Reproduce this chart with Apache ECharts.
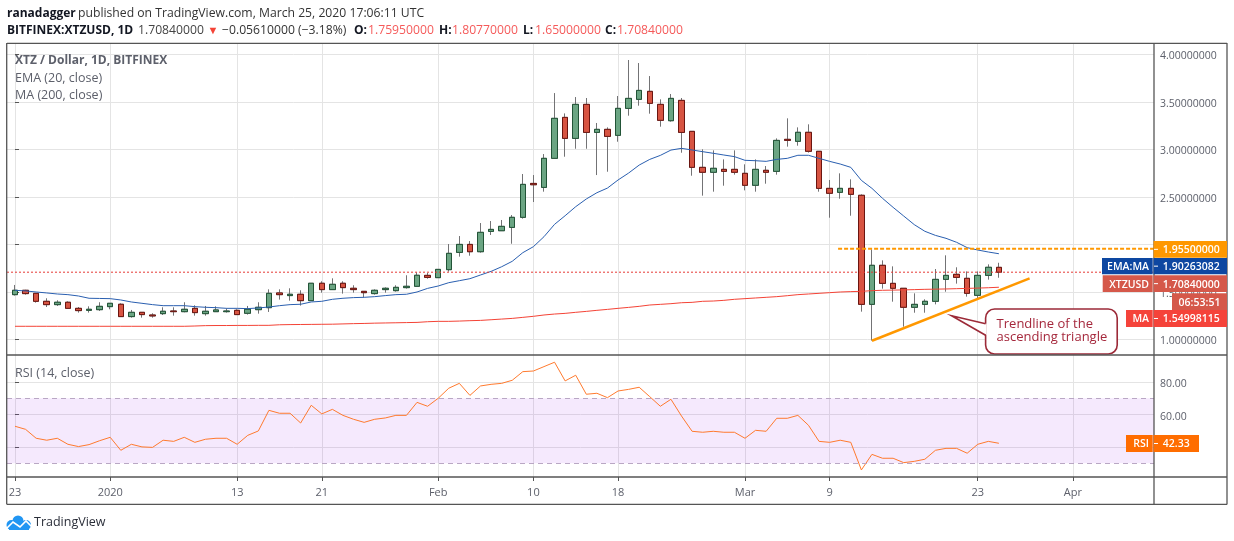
<!DOCTYPE html>
<html><head><meta charset="utf-8">
<style>html,body{margin:0;padding:0;background:#fff}#c{width:1234px;height:541px}</style>
<script src="https://cdn.jsdelivr.net/npm/echarts@6/dist/echarts.min.js"></script>
</head><body><div id="c"></div>
<script>
var opens=[1.472,1.518,1.486,1.402,1.367,1.392,1.328,1.307,1.314,1.346,
1.371,1.241,1.286,1.258,1.272,1.300,1.293,1.328,1.272,1.293,
1.293,1.307,1.276,1.314,1.335,1.490,1.462,1.476,1.409,1.592,
1.525,1.592,1.539,1.507,1.483,1.525,1.514,1.546,1.560,1.675,
1.651,1.735,1.917,2.001,1.924,2.138,2.145,2.180,2.286,2.643,
2.601,2.907,3.338,3.117,3.475,3.180,3.212,3.149,3.433,3.528,
3.612,3.475,3.303,3.517,3.191,2.812,2.760,2.791,2.791,2.749,
2.623,2.781,2.770,3.107,3.086,3.181,2.981,2.591,2.549,2.591,
2.518,1.370,1.781,1.591,1.539,1.339,1.370,1.402,1.633,1.686,
1.644,1.465,1.675,1.7595];
var closes=[1.518,1.483,1.402,1.367,1.392,1.328,1.304,1.318,1.349,1.381,
1.241,1.286,1.262,1.248,1.297,1.293,1.318,1.283,1.297,1.311,
1.300,1.262,1.318,1.339,1.486,1.472,1.476,1.409,1.592,1.525,
1.581,1.546,1.525,1.493,1.518,1.539,1.549,1.560,1.676,1.654,
1.738,1.907,2.001,1.924,2.128,2.159,2.191,2.286,2.633,2.629,
2.907,3.328,3.117,3.475,3.180,3.212,3.138,3.433,3.538,3.622,
3.486,3.307,3.538,3.180,2.812,2.760,2.802,2.770,2.760,2.623,
2.791,2.760,3.096,3.096,3.181,2.981,2.591,2.539,2.591,2.528,
1.370,1.781,1.591,1.539,1.339,1.370,1.402,1.633,1.675,1.654,
1.486,1.675,1.760,1.7084];
var lows=[1.462,1.472,1.388,1.342,1.353,1.325,1.283,1.283,1.300,1.318,
1.241,1.230,1.230,1.230,1.258,1.251,1.286,1.251,1.251,1.293,
1.283,1.262,1.262,1.272,1.290,1.420,1.409,1.357,1.409,1.493,
1.525,1.483,1.493,1.444,1.472,1.493,1.504,1.535,1.556,1.640,
1.651,1.714,1.872,1.882,1.914,2.100,2.145,2.008,2.272,2.447,
2.556,2.907,2.924,3.008,3.008,2.731,2.766,3.082,3.356,3.461,
3.377,3.240,3.293,2.966,2.724,2.514,2.556,2.619,2.735,2.570,
2.556,2.640,2.735,3.030,3.040,2.967,2.556,2.282,2.482,2.303,
1.293,0.988,1.535,1.398,1.135,1.282,1.282,1.370,1.503,1.588,
1.451,1.423,1.630,1.650];
var highs=[1.574,1.523,1.486,1.434,1.413,1.402,1.342,1.349,1.392,1.381,
1.381,1.311,1.286,1.276,1.339,1.339,1.392,1.360,1.353,1.349,
1.328,1.318,1.353,1.392,1.528,1.528,1.539,1.518,1.592,1.613,
1.644,1.613,1.571,1.507,1.528,1.549,1.571,1.676,1.707,1.700,
1.738,2.005,2.089,2.036,2.226,2.247,2.258,2.310,2.742,2.731,
2.952,3.594,3.380,3.552,3.542,3.279,3.233,3.563,3.942,3.910,
3.773,3.528,3.584,3.542,3.191,3.002,2.991,2.896,2.991,2.844,
2.896,2.826,3.117,3.328,3.233,3.265,2.981,2.679,2.749,2.686,
2.528,1.949,1.833,1.770,1.539,1.486,1.423,1.742,1.886,1.760,
1.717,1.717,1.791,1.8077];
var ema20=[1.518,1.511,1.500,1.490,1.479,1.472,1.458,1.434,1.432,1.430,
1.416,1.395,1.381,1.367,1.356,1.356,1.356,1.346,1.339,1.335,
1.328,1.328,1.325,1.332,1.342,1.356,1.367,1.371,1.395,1.402,
1.423,1.434,1.441,1.444,1.451,1.462,1.472,1.476,1.500,1.538,
1.563,1.598,1.619,1.640,1.679,1.717,1.766,1.823,1.914,1.977,
2.082,2.212,2.303,2.398,2.479,2.545,2.594,2.679,2.752,2.836,
2.896,2.938,2.994,3.012,2.995,2.977,2.960,2.942,2.925,2.886,
2.882,2.875,2.896,2.907,2.939,2.939,2.907,2.875,2.847,2.812,
2.675,2.591,2.486,2.391,2.300,2.209,2.139,2.096,2.065,2.023,
1.967,1.942,1.921,1.90263];
var ma200=[1.139,1.139,1.139,1.139,1.139,1.139,1.139,1.139,1.139,1.139,
1.139,1.139,1.139,1.139,1.139,1.139,1.139,1.142,1.146,1.147,
1.147,1.148,1.148,1.149,1.149,1.155,1.157,1.158,1.159,1.160,
1.161,1.164,1.167,1.169,1.172,1.174,1.176,1.178,1.180,1.187,
1.191,1.191,1.194,1.198,1.201,1.208,1.215,1.222,1.233,1.244,
1.258,1.268,1.275,1.286,1.296,1.307,1.317,1.328,1.338,1.349,
1.363,1.370,1.377,1.387,1.391,1.402,1.405,1.412,1.423,1.430,
1.437,1.444,1.451,1.461,1.472,1.479,1.486,1.493,1.500,1.504,
1.507,1.514,1.518,1.520,1.522,1.525,1.528,1.530,1.532,1.535,
1.538,1.541,1.545,1.54998];
var rsi14=[52.8,50.9,45.4,44.2,45.4,41.7,40.3,41.5,43.9,46.0,
38.0,41.7,40.1,39.8,44.2,43.5,46.0,42.9,44.8,45.4,
45.4,41.7,47.2,49.9,62.6,60.8,60.8,54.8,65.7,60.4,
63.2,59.5,57.1,55.2,57.1,57.9,59.5,59.5,67.5,65.1,
70.0,76.2,79.2,71.8,77.6,78.6,79.2,81.1,86.4,86.8,
89.5,92.2,80.7,84.2,72.5,73.1,70.4,74.5,75.5,76.8,
71.0,65.1,69.4,59.1,49.7,49.1,49.7,49.1,49.1,45.4,
50.3,49.7,57.7,57.7,59.5,53.4,43.5,42.9,44.2,42.9,
25.9,35.5,33.1,33.1,30.4,31.2,32.5,38.0,39.2,39.2,
36.2,41.7,43.5,42.33];
var dayTicks=[0,9,21,29,40,49,57,69,77,91,100];
var dayLabels=['23','2020','13','21','Feb','10','18','Mar','9','23','Apr'];
var priceTicks=[1,1.5,2,2.5,3,3.5,4];
var rsiTicks=[40,60,80];
var resistance=1.955, lastClose=1.7084;
var trendline=[[81,0.987],[95.9,1.644]];
var calloutTip=[[88.53,1.25]];

var FONT='"Open Sans"';
var XMIN=-0.756, XMAX=107.66;
function withIndex(a){return a.map(function(v,i){return [i,v];});}
var wickData=opens.map(function(o,i){return [i,o,closes[i],lows[i],highs[i]];});
var bodyData=opens.map(function(o,i){var c=closes[i];return [i,o,c,Math.min(o,c),Math.max(o,c)];});

var gridColor='#e4e4e4', frame='#555';
function xAxisOf(idx,showLabels){
  return {type:'value',gridIndex:idx,min:XMIN,max:XMAX,
    axisLine:{show:false},
    axisTick:{show:showLabels,customValues:dayTicks,length:4,lineStyle:{color:frame}},
    axisLabel:{show:showLabels,customValues:dayTicks,margin:10,fontFamily:FONT,fontSize:11,color:'#5d606b',
      formatter:function(v){return dayLabels[dayTicks.indexOf(v)];}},
    splitLine:{show:true,customValues:dayTicks,lineStyle:{color:gridColor,width:1}}};
}
function yAxisOf(idx,min,max,ticks,dp){
  return {type:'value',gridIndex:idx,position:'right',min:min,max:max,
    axisLine:{show:false},
    axisTick:{show:true,customValues:ticks,length:4,lineStyle:{color:frame}},
    axisLabel:{customValues:ticks,margin:6,verticalAlign:'top',lineHeight:4,fontFamily:FONT,fontSize:10.5,color:'#5d606b',
      formatter:function(v){return v.toFixed(dp);}},
    splitLine:{show:true,customValues:ticks,lineStyle:{color:gridColor,width:1}}};
}
function txt(x,y,s,o){o=o||{};return {type:'text',z:120,x:x,y:y+1,silent:true,style:{text:s,fontFamily:FONT,fontSize:o.size||12.2,
  fontWeight:o.w||'normal',fill:o.c||'#333',align:o.a||'left',verticalAlign:'middle'}};}
function box(x,y,w,h,c){return {type:'rect',z:110,silent:true,shape:{x:x,y:y,width:w,height:h},style:{fill:c}};}
function rule(x1,y1,x2,y2){return {type:'line',z:105,silent:true,shape:{x1:x1,y1:y1,x2:x2,y2:y2},style:{stroke:frame,lineWidth:1.3}};}
function tag(yTop,h,c,value,left,leftX,w){
  w=w||73.5;
  var cy=yTop+h/2, out=[box(1153.5,yTop,w,h,c),
    {type:'line',z:115,silent:true,shape:{x1:1154,y1:cy,x2:1158,y2:cy},style:{stroke:'#fff',lineWidth:1}},
    txt(1153.5+w/2+(w<60?0:1),cy,value,{size:10.5,w:'600',c:'#fff',a:'center'})];
  if(left){out.push(box(leftX,yTop,1152.7-leftX,h,c));out.push(txt(1149,cy,left,{size:10.5,w:'600',c:'#fff',a:'right'}));}
  return out;
}
var red='#f55a5a', B={w:'bold',c:'#131722',size:12};
var graphics=[
  rule(7,43.3,1227,43.3),rule(7,355,1227,355),rule(7,477,1227,477),rule(7,504.3,1227,504.3),
  rule(6.7,43,6.7,504.6),rule(1154,43,1154,504.6),rule(1227,43,1227,504.6),
  txt(7,12.5,'ranadagger',B),txt(78,12.5,'published on TradingView.com, March 25, 2020 17:06:11 UTC',{c:'#333'}),
  txt(7,29.5,'BITFINEX:XTZUSD, 1D',B),txt(138,29.5,'1.70840000',{c:'#444'}),
  txt(207.5,29.5,'\u25BC',{c:'#f44336',size:11}),txt(222,29.5,'\u22120.05610000 (\u22123.18%)',{c:'#333'}),
  txt(354,29.5,'O:',B),txt(368,29.5,'1.75950000',{c:red}),
  txt(439,29.5,'H:',B),txt(452,29.5,'1.80770000',{c:red}),
  txt(523,29.5,'L:',B),txt(535,29.5,'1.65000000',{c:red}),
  txt(605,29.5,'C:',B),txt(617,29.5,'1.70840000',{c:red}),
  txt(15,60,'XTZ / Dollar, 1D, BITFINEX',{w:'bold',c:'#5d606b',size:12}),
  txt(15,77,'EMA (20, close)',{c:'#5d606b',size:12.5}),
  txt(15,94,'MA (200, close)',{c:'#5d606b',size:12.5}),
  txt(15,372,'RSI (14, close)',{c:'#5d606b',size:12.5}),
  txt(34,521.5,'TradingView',{c:'#2a2e39',size:12.5}),
  {type:'group',z:120,silent:true,children:[
    {type:'circle',z:120,shape:{cx:11.5,cy:525,r:5},style:{fill:'#2196f3'}},
    {type:'circle',z:120,shape:{cx:18,cy:521,r:5.5},style:{fill:'#2196f3'}},
    {type:'circle',z:120,shape:{cx:26,cy:525,r:5},style:{fill:'#2196f3'}},
    {type:'rect',z:120,shape:{x:9,y:524,width:20,height:6},style:{fill:'#2196f3'}},
    {type:'polyline',z:121,shape:{points:[[6,529],[13,522],[20,527],[26,521],[32,527]]},style:{stroke:'#fff',lineWidth:1.6,fill:null}}
  ]}
].concat(
  tag(241,16.7,'#ff9800','1.95500000'),
  tag(258,16.3,'#0d47a1','1.90263082','EMA:MA',1102),
  tag(275.3,16.7,'#d5584a','1.70840000','XTZUSD',1102.7),
  [box(1172,293.3,55,16.7,'#d5584a'),txt(1199.5,301.7,'06:53:51',{size:10.5,w:'600',c:'#fff',a:'center'})],
  tag(310,17,'#f5433a','1.54998115','MA',1126),
  tag(435,17,'#ff6d00','42.33','RSI',1126,45.5)
);

var option={
  animation:false,backgroundColor:'#fff',
  grid:[{left:7,top:43,width:1147,height:312},{left:7,top:355,width:1147,height:122}],
  xAxis:[xAxisOf(0,false),xAxisOf(1,true)],
  yAxis:[yAxisOf(0,0.8368,4.121,priceTicks,8),yAxisOf(1,21.57,96.65,rsiTicks,2)],
  graphic:graphics,
  series:[
    {name:'MA (200, close)',type:'line',data:withIndex(ma200),showSymbol:false,lineStyle:{color:'#f44336',width:1}},
    {name:'EMA (20, close)',type:'line',data:withIndex(ema20),showSymbol:false,lineStyle:{color:'#2a5fb0',width:1}},
    {name:'wicks',type:'candlestick',data:wickData,barWidth:6,
      itemStyle:{color:'#737375',color0:'#737375',borderColor:'#737375',borderColor0:'#737375',borderWidth:1}},
    {name:'XTZUSD',type:'candlestick',data:bodyData,barWidth:6,
      itemStyle:{color:'#6ba583',color0:'#d75442',borderColor:'#225437',borderColor0:'#6b1510',borderWidth:1}},
    {name:'last price',type:'line',data:[[XMIN,lastClose],[XMAX,lastClose]],showSymbol:false,
      lineStyle:{color:'#e53935',width:1,type:[2,2]}},
    {name:'resistance',type:'line',data:[[77.8,resistance],[XMAX,resistance]],showSymbol:false,
      lineStyle:{color:'#ff9800',width:2,type:[4,2]}},
    {name:'trendline',type:'line',data:trendline,showSymbol:false,lineStyle:{color:'#ff9800',width:2.5}},
    {name:'callout',type:'custom',data:calloutTip,clip:false,z:20,encode:{x:0,y:1},
      renderItem:function(p,api){
        var t=api.coord([api.value(0),api.value(1)]);
        var tx=t[0],ty=t[1],stroke='#9c2a38';
        var L=tx+34,T=ty-6.7,W=131.6,H=45;
        return {type:'group',children:[
          {type:'rect',shape:{x:L,y:T,width:W,height:H,r:9},style:{fill:'#fff',stroke:stroke,lineWidth:1.6}},
          {type:'polygon',shape:{points:[[tx,ty],[L+1,ty+8],[L+1,ty+19.5]]},style:{fill:'#fff'}},
          {type:'polyline',shape:{points:[[L,ty+8],[tx,ty],[L,ty+19.5]]},style:{fill:null,stroke:stroke,lineWidth:1.6}},
          {type:'text',x:L+11,y:ty+9,style:{text:'Trendline of the',fontFamily:FONT,fontSize:13,fill:'#a5283c',verticalAlign:'middle'}},
          {type:'text',x:L+11,y:ty+22,style:{text:'ascending triangle',fontFamily:FONT,fontSize:13,fill:'#a5283c',verticalAlign:'middle'}}
        ]};
      }},
    {name:'RSI (14, close)',type:'line',xAxisIndex:1,yAxisIndex:1,data:withIndex(rsi14),showSymbol:false,
      lineStyle:{color:'#ff7a2e',width:1},
      markArea:{silent:true,itemStyle:{color:'rgba(155,40,240,0.1)'},data:[[{yAxis:70},{yAxis:30}]]},
      markLine:{silent:true,symbol:'none',label:{show:false},lineStyle:{color:'#b9a7c4',type:[5,4],width:1},data:[{yAxis:70},{yAxis:30}]}}
  ]
};
var chart=echarts.init(document.getElementById('c'),null,{renderer:'canvas'});
chart.setOption(option);
</script></body></html>
